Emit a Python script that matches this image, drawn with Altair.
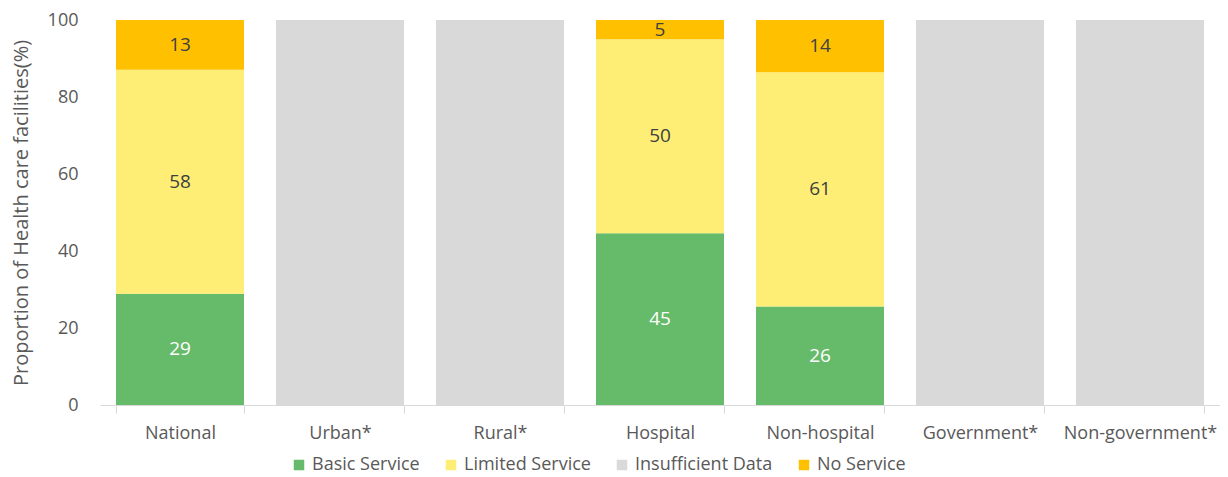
import altair as alt
import pandas as pd

categories = ["National", "Urban*", "Rural*", "Hospital", "Non-hospital", "Government*", "Non-government*"]
series = ["Basic Service", "Limited Service", "Insufficient Data", "No Service"]
basic = [28.9, 0, 0, 44.6, 25.6, 0, 0]
limited = [58.2, 0, 0, 50.4, 60.8, 0, 0]
insufficient = [0, 100, 100, 0, 0, 100, 100]
no_service = [12.9, 0, 0, 5.0, 13.6, 0, 0]
colors = ["#66BB6A", "#FFEE75", "#D9D9D9", "#FFC000"]

rows = []
for s_i, (s, vals) in enumerate(zip(series, [basic, limited, insufficient, no_service])):
    for c, v in zip(categories, vals):
        if v > 0:
            rows.append({"category": c, "series": s, "order": s_i, "value": v})
df = pd.DataFrame(rows)

FONT = "Open Sans"

base = alt.Chart(df)

bars = base.mark_bar().encode(
    x=alt.X("category:N", sort=categories, title=None,
            scale=alt.Scale(paddingInner=0.2, paddingOuter=0.1),
            axis=alt.Axis(labelAngle=0, tickBand="extent", tickSize=8, labelPadding=11,
                          domainColor="#D9D9D9", tickColor="#D9D9D9",
                          labelColor="#595959", labelFontSize=18, labelFont=FONT)),
    y=alt.Y("value:Q", stack="zero", title="Proportion of Health care facilities(%)",
            scale=alt.Scale(domain=[0, 100], nice=False),
            axis=alt.Axis(values=[0, 20, 40, 60, 80, 100], grid=False, domain=False, ticks=False,
                          labelPadding=22, labelColor="#595959", labelFontSize=18, labelFont=FONT,
                          titleColor="#595959", titleFontSize=20, titleFont=FONT,
                          titleFontWeight="normal", titlePadding=16)),
    color=alt.Color("series:N", scale=alt.Scale(domain=series, range=colors),
                    legend=alt.Legend(title=None, orient="none", direction="horizontal",
                                      legendX=190, legendY=436, symbolType="square",
                                      symbolSize=110, symbolStrokeWidth=0, columnPadding=22,
                                      labelFontSize=18, labelFont=FONT, labelColor="#595959")),
    order=alt.Order("order:Q"),
)

labels = base.transform_filter(
    alt.datum.series != "Insufficient Data"
).transform_window(
    cum="sum(value)", groupby=["category"], sort=[alt.SortField("order")]
).transform_calculate(
    mid="datum.cum - datum.value / 2",
    lab="format(round(datum.value), 'd')",
).mark_text(fontSize=19, font=FONT, baseline="middle").encode(
    x=alt.X("category:N", sort=categories),
    y=alt.Y("mid:Q"),
    text="lab:N",
    color=alt.condition(alt.datum.series == "Basic Service", alt.value("#FFFFFF"), alt.value("#404040")),
)

chart = alt.layer(bars, labels).properties(
    width=1120, height=385,
    autosize=alt.AutoSizeParams(type="none"),
    padding={"left": 92, "top": 12, "right": 0, "bottom": 72},
).configure_view(stroke=None)

chart.save("out.html", embed_options={"renderer": "svg", "actions": False})
